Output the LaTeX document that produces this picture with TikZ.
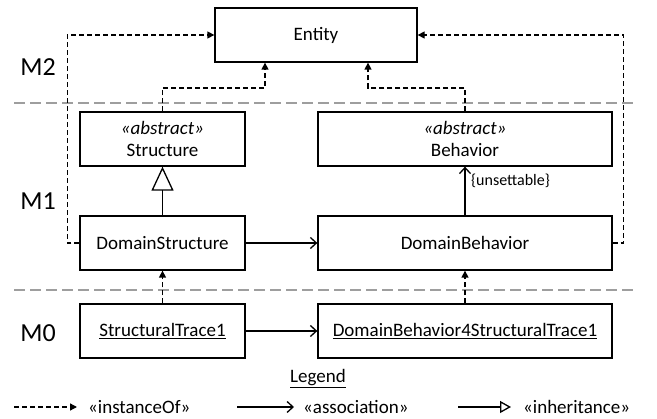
\documentclass[tikz,border=0pt]{standalone}
\usepackage{fontspec}
\setmainfont{Carlito}
\usetikzlibrary{arrows.meta}
\tikzset{
  cls/.style={draw, line width=1.3pt, minimum height=54pt, inner sep=0pt, align=center, font=\fontsize{19}{22}\selectfont},
  lvl/.style={font=\fontsize{26}{28}\selectfont},
  inst/.style={line width=1.3pt, dash pattern=on 5pt off 3pt, -{Triangle[length=7pt,width=7pt]}},
  assoc/.style={line width=1.3pt, -{Straight Barb[length=6pt,width=11pt]}},
  inher/.style={line width=1.3pt, -{Triangle[open,length=24pt,width=22pt,line width=1.3pt]}},
  sep/.style={draw=black!38, line width=1.4pt, dash pattern=on 11pt off 5pt},
  lgd/.style={font=\fontsize{19}{21}\selectfont, anchor=west, inner sep=0pt}
}
\begin{document}
\begin{tikzpicture}[x=1pt,y=-1pt]
\useasboundingbox (0,0) rectangle (657,419);

% level separators
\coordinate (s1a) at (14,103); \coordinate (s1b) at (634,103);
\coordinate (s2a) at (14,290); \coordinate (s2b) at (634,290);
\draw[sep] (s1a) -- (s1b);
\draw[sep] (s2a) -- (s2b);

% level labels
\node[lvl] (m2) at (38,67) {M2};
\node[lvl] (m1) at (38,201) {M1};
\node[lvl] (m0) at (38,333) {M0};

% classes
\node[cls, minimum width=202pt] (entity) at (316,35) {Entity};
\node[cls, minimum width=165pt] (structure) at (162.5,139) {\textit{«abstract»}\\Structure};
\node[cls, minimum width=294pt] (behavior) at (465,139) {\textit{«abstract»}\\Behavior};
\node[cls, minimum width=165pt] (dstruct) at (162.5,243) {DomainStructure};
\node[cls, minimum width=294pt] (dbeh) at (465,243) {DomainBehavior};
\node[cls, minimum width=165pt] (trace) at (162.5,331) {\underline{StructuralTrace1}};
\node[cls, minimum width=294pt] (dbtrace) at (465,331) {\underline{DomainBehavior4StructuralTrace1}};

% instanceOf links to Entity
\draw[inst] (dstruct.west) -- ++(-12,0) |- (entity.west);
\draw[inst] (dbeh.east) -- ++(11,0) |- (entity.east);
\draw[inst] (structure.north) |- (265,88) -- (entity.south -| 265,0);
\draw[inst] (behavior.north) |- (368,88) -- (entity.south -| 368,0);

% M1 relations
\draw[inher] (dstruct.north) -- (structure.south);
\draw[assoc] (dstruct.east) -- (dbeh.west);
\draw[assoc] (dbeh.north) -- (behavior.south);
\node[anchor=west, inner sep=0pt, font=\fontsize{16}{18}\selectfont] (unset) at (471,181) {\{unsettable\}};

% M0 relations
\draw[inst] (trace.north) -- (dstruct.south);
\draw[inst] (dbtrace.north) -- (dbeh.south);
\draw[assoc] (trace.east) -- (dbtrace.west);

% legend
\node[font=\fontsize{19}{21}\selectfont] (legend) at (318,379) {\underline{Legend}};
\coordinate (l1a) at (14,407); \coordinate (l1b) at (77,407);
\coordinate (l2a) at (237,407); \coordinate (l2b) at (294,407);
\coordinate (l3a) at (458,407); \coordinate (l3b) at (511,407);
\draw[line width=1.3pt, dash pattern=on 5pt off 3pt, -{Triangle[length=7pt,width=7pt]}] (l1a) -- (l1b);
\draw[assoc] (l2a) -- (l2b);
\draw[line width=1.3pt, -{Triangle[open,length=11pt,width=12pt,line width=1.3pt]}] (l3a) -- (l3b);
\node[lgd] (t1) at (88,407) {«instanceOf»};
\node[lgd] (t2) at (303,407) {«association»};
\node[lgd] (t3) at (523,407) {«inheritance»};
\end{tikzpicture}
\end{document}
